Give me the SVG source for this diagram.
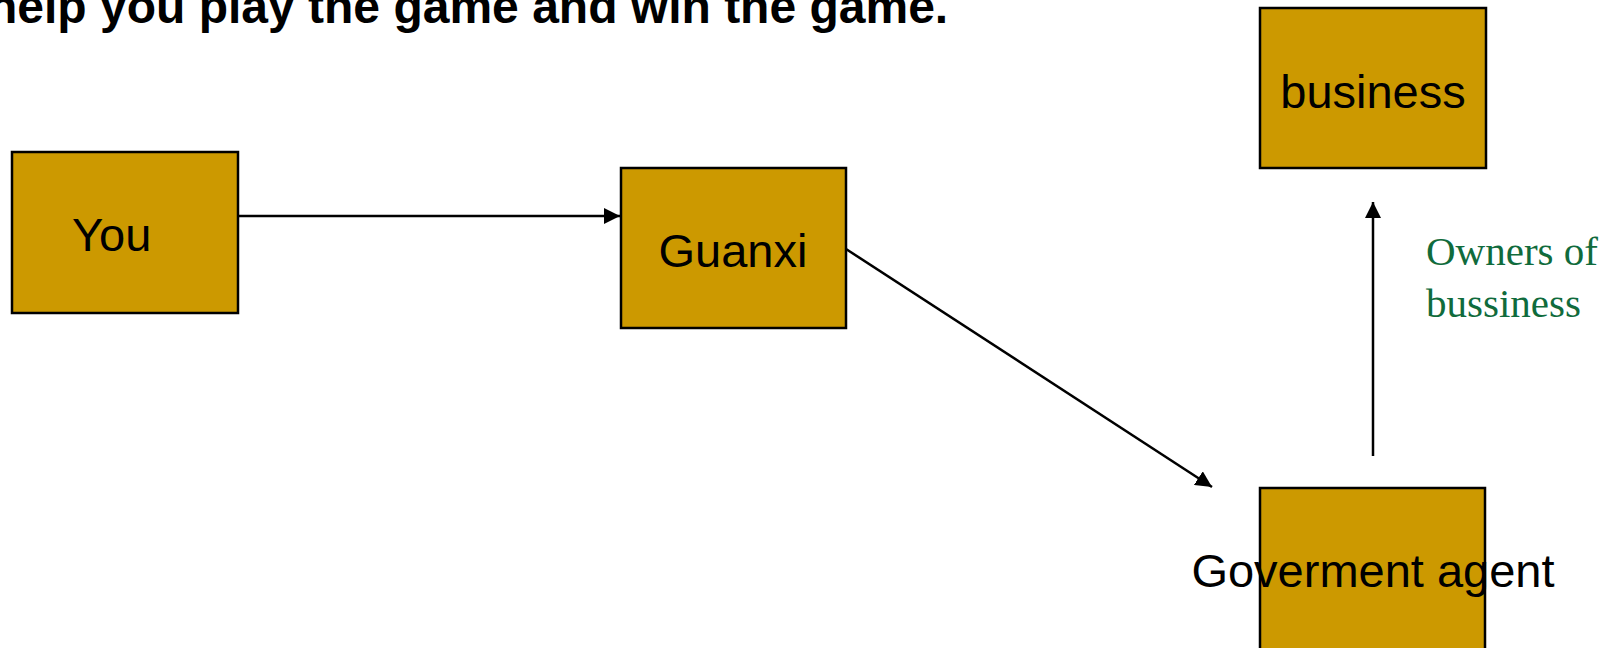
<svg xmlns="http://www.w3.org/2000/svg" width="1619" height="648" viewBox="0 0 1619 648">
<style>
.box{fill:#CC9900;stroke:#000;stroke-width:2.5}
.lbl{font-family:"Liberation Sans",Arial,sans-serif;font-size:47px;fill:#000}
.edge{stroke:#000;stroke-width:2.5;fill:none}
.note{font-family:"Liberation Serif","Times New Roman",serif;font-size:41px;fill:#106B3C}
</style>
<defs>
<marker id="arr" viewBox="0 0 10 10" refX="10" refY="5" markerWidth="6.5" markerHeight="6.5" markerUnits="strokeWidth" orient="auto">
<path d="M0,0 L10,5 L0,10 z" fill="#000"/>
</marker>
</defs>
<rect width="1619" height="648" fill="#fff"/>
<text x="-12" y="23" style="font-family:'Liberation Sans',Arial,sans-serif;font-size:48px;font-weight:bold;fill:#000">help you play the game and win the game.</text>
<g id="connectors">
<line class="edge" x1="238" y1="216" x2="620" y2="216" marker-end="url(#arr)"/>
<line class="edge" x1="846" y1="249" x2="1212" y2="487" marker-end="url(#arr)"/>
<line class="edge" x1="1373" y1="456" x2="1373" y2="202" marker-end="url(#arr)"/>
</g>
<g id="node-you">
<rect class="box" x="12" y="152" width="226" height="161"/>
<text class="lbl" x="72" y="251">You</text>
</g>
<g id="node-guanxi">
<rect class="box" x="621" y="168" width="225" height="160"/>
<text class="lbl" x="733" y="267" text-anchor="middle">Guanxi</text>
</g>
<g id="node-business">
<rect class="box" x="1260" y="8" width="226" height="160"/>
<text class="lbl" x="1373" y="108" text-anchor="middle">business</text>
</g>
<g id="node-gov">
<rect class="box" x="1260" y="488" width="225" height="175"/>
<text class="lbl" x="1373" y="587" text-anchor="middle">Goverment agent</text>
</g>
<g id="label-owners">
<text class="note" x="1426" y="265">Owners of</text>
<text class="note" x="1426" y="317">bussiness</text>
</g>
</svg>
